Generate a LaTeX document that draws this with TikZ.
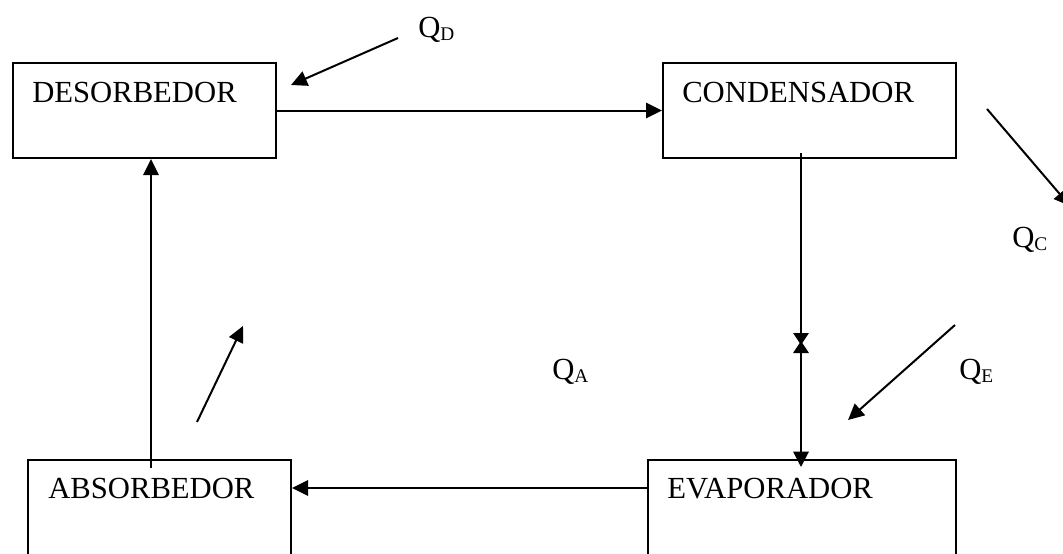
\documentclass[tikz,border=0pt]{standalone}
\usepackage{fontspec}
\setmainfont{Liberation Serif}
\usetikzlibrary{arrows.meta,calc}
\newcommand{\Qsub}[1]{Q\raisebox{-0.12em}{\fontsize{14.5}{15}\selectfont #1}}
\tikzset{
  box/.style={draw, line width=1.5pt, rectangle, anchor=north west, inner sep=0pt},
  lbl/.style={anchor=base west, inner sep=0pt, font=\fontsize{23}{26}\selectfont},
  arr/.style={line width=1.5pt, -{Triangle[length=12pt,width=11.5pt]}},
  valvein/.style={line width=1.5pt, -{Triangle[length=9pt,width=11.5pt]}, shorten >=-1.5pt},
  arrboth/.style={line width=1.5pt, {Triangle[length=9pt,width=11.5pt]}-{Triangle[length=11.5pt,width=11.5pt]}, shorten <=-1.5pt},
}
\begin{document}
\begin{tikzpicture}[x=0.75pt,y=-0.75pt]
\useasboundingbox (0,0) rectangle (1063,553);
\clip (0,0) rectangle (1063,553);
% boxes
\node[box, minimum width=197.25pt, minimum height=71.25pt] (des) at (12,62) {};
\node[box, minimum width=219.75pt, minimum height=71.25pt] (cond) at (662,62) {};
\node[box, minimum width=197.25pt, minimum height=78pt] (abs) at (27,459) {};
\node[box, minimum width=231pt, minimum height=78pt] (evap) at (647,459) {};
% labels
\node[lbl] (tdes) at (32,102) {DESORBEDOR};
\node[lbl] (tcond) at (682,102) {CONDENSADOR};
\node[lbl] (tabs) at (48,498) {ABSORBEDOR};
\node[lbl] (tevap) at (667,498) {EVAPORADOR};
\node[lbl] (qd) at (418,37) {\Qsub{D}};
\node[lbl] (qc) at (1012,247) {\Qsub{C}};
\node[lbl] (qa) at (552,379) {\Qsub{A}};
\node[lbl] (qe) at (959,379) {\Qsub{E}};
% process connectors
\draw[arr] (des.east) -- (cond.west);
\coordinate (absin) at (151,468);
\draw[arr] (absin) -- (absin |- des.south);
\coordinate (condin) at (801,153);
\coordinate (valve) at (801,343);
\draw[valvein] (condin) -- (valve);
\draw[arrboth, shorten >=-6pt] (valve) -- (valve |- evap.north);
\draw[arr] ($(evap.north west)+(0,29)$) -- ($(abs.north east)+(0,29)$);
% heat arrows
\coordinate (qds) at (398,38);
\coordinate (qdt) at (291,85);
\draw[arr] (qds) -- (qdt);
\coordinate (qcs) at (987,109);
\coordinate (qct) at (1070,206);
\draw[arr] (qcs) -- (qct);
\coordinate (qas) at (197,422);
\coordinate (qat) at (243,326);
\draw[arr] (qas) -- (qat);
\coordinate (qes) at (955,325);
\coordinate (qet) at (848,420);
\draw[arr] (qes) -- (qet);
\end{tikzpicture}
\end{document}
